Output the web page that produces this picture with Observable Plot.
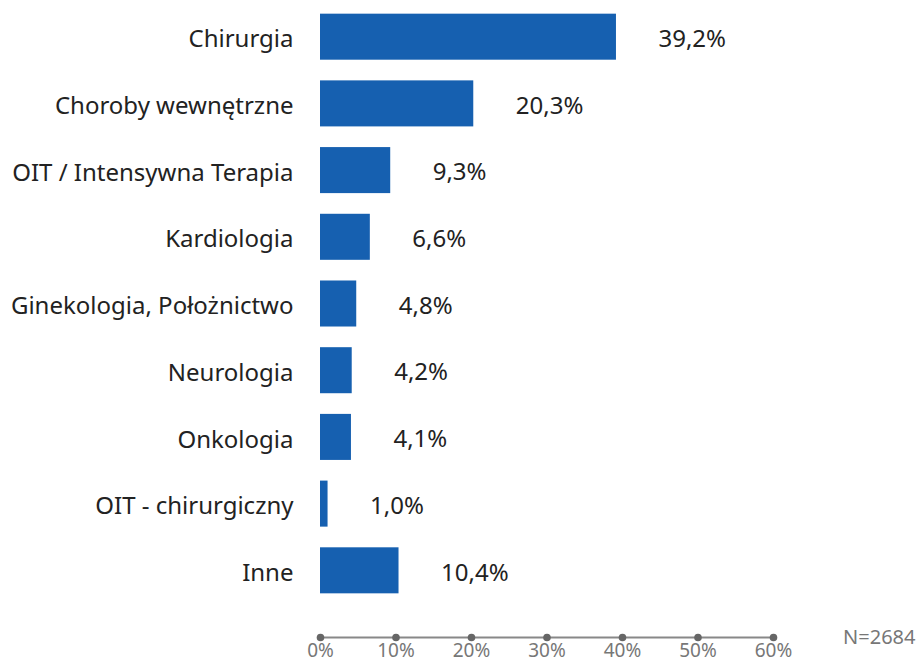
<!DOCTYPE html>
<html>
<head>
<meta charset="utf-8">
<script src="https://cdn.jsdelivr.net/npm/d3@7"></script>
<script src="https://cdn.jsdelivr.net/npm/@observablehq/plot@0.6"></script>
<style>
  body { margin: 0; background: #fff; }
  svg { display: block; }
</style>
</head>
<body>
<div id="chart"></div>
<script>
const categories = ["Chirurgia", "Choroby wewnętrzne", "OIT / Intensywna Terapia", "Kardiologia", "Ginekologia, Położnictwo", "Neurologia", "Onkologia", "OIT - chirurgiczny", "Inne"];
const values = [39.2, 20.3, 9.3, 6.6, 4.8, 4.2, 4.1, 1.0, 10.4];
const xTicks = [0, 10, 20, 30, 40, 50, 60];
const sampleNote = "N=2684";

const data = categories.map((c, i) => ({name: c, value: values[i]}));
const fmt = v => v.toFixed(1).replace(".", ",") + "%";
const axisOffset = 37;

const chart = Plot.plot({
  width: 916,
  height: 662,
  marginLeft: 320,
  marginRight: 143,
  marginTop: 7,
  marginBottom: 62,
  style: {fontFamily: "'Noto Sans', sans-serif", background: "#fff"},
  x: {domain: [0, 60], axis: null},
  y: {domain: categories, paddingInner: 0.31, paddingOuter: 0.1, round: false, axis: null},
  marks: [
    Plot.barX(data, {x: "value", y: "name", fill: "#1660b0"}),
    Plot.axisY({tickSize: 0, tickPadding: 27, fontSize: 24, color: "#222", label: null, dy: 2.5}),
    Plot.text(data, {x: "value", y: "name", text: d => fmt(d.value), textAnchor: "start", dx: 42, dy: 2, fontSize: 24, fill: "#222"}),
    Plot.frame({anchor: "bottom", dy: axisOffset, stroke: "#888", strokeWidth: 2}),
    Plot.dot(xTicks, {x: d => d, frameAnchor: "bottom", dy: axisOffset, r: 3.8, fill: "#666"}),
    Plot.text(xTicks, {x: d => d, text: d => d + "%", frameAnchor: "bottom", lineAnchor: "middle", dy: axisOffset + 13, fontSize: 19, fill: "#777"}),
    Plot.text([sampleNote], {frameAnchor: "bottom-right", text: d => d, textAnchor: "end", lineAnchor: "middle", dx: 142, dy: axisOffset, fontSize: 20, fill: "#777"})
  ]
});
document.getElementById("chart").appendChild(chart);
</script>
</body>
</html>
